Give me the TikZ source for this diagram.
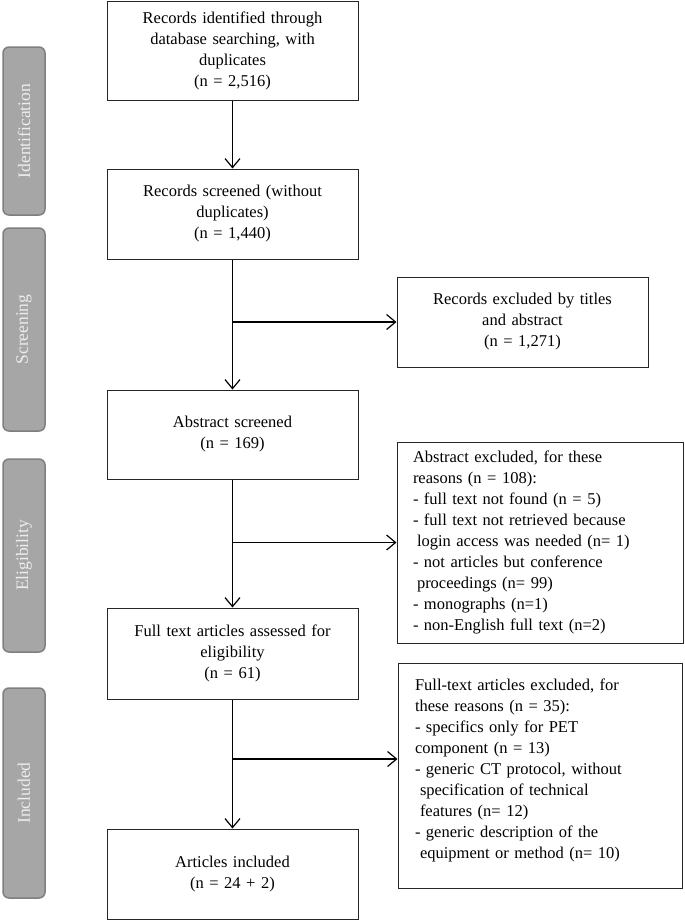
\documentclass[tikz,border=0pt]{standalone}
\usepackage{fontspec}
\setmainfont{Liberation Serif}
\usepackage{tikz}
\usetikzlibrary{shapes, arrows.meta, positioning}

\definecolor{tabfill}{HTML}{A6A6A6}
\definecolor{tabline}{HTML}{7F7F7F}

\begin{document}
\begin{tikzpicture}
  [
    x=1pt, y=-1pt,
    >={Straight Barb[length=9pt, width=15pt]},
    Box/.style={rectangle, draw=black!85, line width=1pt, minimum width=251pt, inner sep=0pt, text width=240pt, align=center, font=\fontsize{16.5}{21}\selectfont},
    Side/.style={rectangle, draw=black!85, line width=1pt, inner sep=0pt, align=left, font=\fontsize{16.5}{21}\selectfont},
    Tab/.style={rectangle, rounded corners=6pt, draw=tabline, fill=tabfill, line width=1.5pt, minimum height=42pt, inner sep=0pt, rotate=90, text=white!93!black, font=\fontsize{17.5}{21}\selectfont}
  ]
  \useasboundingbox (0, 0) rectangle (685, 921);

  % Phases
  \node[Tab, minimum width=168pt] (ident) at(24, 131) {Identification};
  \node[Tab, minimum width=203pt] (screen) at(24, 329.5) {Screening};
  \node[Tab, minimum width=193pt] (elig) at(24, 555.5) {Eligibility};
  \node[Tab, minimum width=210pt] (incl) at(24, 793) {Included};

  % Nodes
  \node[Box, minimum height=99pt] (found) at(232.5, 50.5) {Records identified through\\database searching, with\\duplicates\\(n = 2,516)};
  \node[Box, minimum height=90pt] (screened) at(232.5, 214) {Records screened (without\\duplicates)\\(n = 1,440)};
  \node[Box, minimum height=89pt] (abstr) at(232.5, 434.5) {Abstract screened\\(n = 169)};
  \node[Box, minimum height=91pt] (fulltext) at(232.5, 653.5) {Full text articles assessed for\\eligibility\\(n = 61)};
  \node[Box, minimum height=90pt] (included) at(232.5, 874) {Articles included\\(n = 24 + 2)};

  \node[Box, minimum height=90pt] (exTitle) at(522.5, 322) {Records excluded by titles\\and abstract\\(n = 1,271)};
  \node[Side, minimum width=286pt, minimum height=201pt, text width=254pt] (exAbstr) at(540, 542.5) {Abstract excluded, for these\\reasons (n = 108):\\- full text not found (n = 5)\\- full text not retrieved because\\\hspace*{4pt}login access was needed (n= 1)\\- not articles but conference\\\hspace*{4pt}proceedings (n= 99)\\- monographs (n=1)\\- non-English full text (n=2)};
  \node[Side, minimum width=284pt, minimum height=225pt, text width=250pt] (exFull) at(540, 775.5) {Full-text articles excluded, for\\these reasons (n = 35):\\- specifics only for PET\\component (n = 13)\\- generic CT protocol, without\\\hspace*{5pt}specification of technical\\\hspace*{5pt}features (n= 12)\\- generic description of the\\\hspace*{5pt}equipment or method (n= 10)\rule[-14pt]{0pt}{0pt}};

  \coordinate (split) at(232.5, 759);

  % Lines
  \path [->, draw, line width=1.2pt] (found) -- (screened);
  \path [->, draw, line width=1.2pt] (screened) -- (abstr);
  \path [->, draw, line width=1.2pt] (abstr) -- (fulltext);
  \path [->, draw, line width=1.2pt] (fulltext) -- (included);
  \path [->, draw, line width=1.2pt] (exTitle.west -| screened.south) -- (exTitle.west);
  \path [->, draw, line width=1.2pt] (exAbstr.west -| abstr.south) -- (exAbstr.west);
  \path [->, draw, line width=1.2pt] (split) -- (split -| exFull.west);

\end{tikzpicture}
\end{document}
